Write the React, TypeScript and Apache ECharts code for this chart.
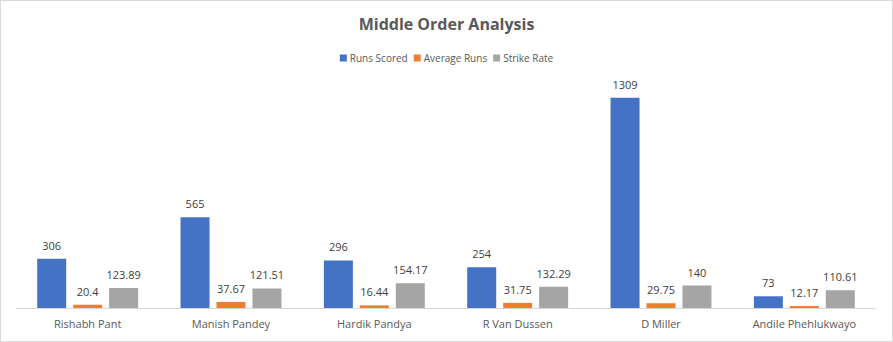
import React, { useEffect, useRef } from "react";
import * as echarts from "echarts";

const categories = ["Rishabh Pant", "Manish Pandey", "Hardik Pandya", "R Van Dussen", "D Miller", "Andile Phehlukwayo"];
const runsScored = [306, 565, 296, 254, 1309, 73];
const averageRuns = [20.4, 37.67, 16.44, 31.75, 29.75, 12.17];
const strikeRate = [123.89, 121.51, 154.17, 132.29, 140, 110.61];

const FONT = "'Open Sans', 'Liberation Sans', sans-serif";

export default function App() {
  const ref = useRef<HTMLDivElement>(null);
  useEffect(() => {
    document.body.style.margin = "0";
    if (!ref.current) return;
    const chart = echarts.init(ref.current, undefined, { renderer: "svg" });
    const mk = (name: string, data: number[], color: string) => ({
      name,
      type: "bar" as const,
      data,
      barWidth: 29,
      barGap: "24%",
      itemStyle: { color },
      label: {
        show: true,
        position: "top" as const,
        distance: 8,
        color: "#404040",
        textBorderWidth: 0,
        fontSize: 11,
        fontFamily: FONT,
      },
    });
    chart.setOption({
      animation: false,
      backgroundColor: "#ffffff",
      title: {
        text: "Middle Order Analysis",
        left: "center",
        top: 10,
        textStyle: { fontSize: 16, fontWeight: "bold", color: "#595959", fontFamily: FONT },
      },
      legend: {
        top: 47,
        left: "center",
        itemWidth: 7,
        itemHeight: 7,
        itemGap: 6,
        icon: "rect",
        textStyle: { fontSize: 10, color: "#595959", fontFamily: FONT, padding: [0, 0, 0, -2] },
        data: ["Runs Scored", "Average Runs", "Strike Rate"],
      },
      grid: { left: 15, right: 16, top: 82, bottom: 33, containLabel: false },
      xAxis: {
        type: "category",
        data: categories,
        axisLine: { lineStyle: { color: "#d9d9d9" } },
        axisTick: { show: false },
        axisLabel: { color: "#595959", fontSize: 11, fontFamily: FONT, margin: 10 },
      },
      yAxis: {
        type: "value",
        min: 0,
        max: 1400,
        show: false,
        splitLine: { show: false },
      },
      series: [
        mk("Runs Scored", runsScored, "#4472C4"),
        mk("Average Runs", averageRuns, "#ED7D31"),
        mk("Strike Rate", strikeRate, "#A5A5A5"),
      ],
    });
    return () => chart.dispose();
  }, []);
  return (
    <div
      ref={ref}
      style={{ width: 893, height: 342, border: "1px solid #d9d9d9", boxSizing: "border-box" }}
    />
  );
}
